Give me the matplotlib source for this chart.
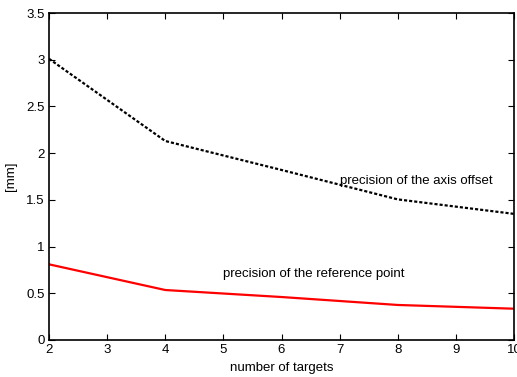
import numpy as np
import matplotlib
matplotlib.use('Agg')
import matplotlib.pyplot as plt

plt.rcParams['font.family'] = ['Liberation Sans', 'DejaVu Sans']

targets = [2, 4, 6, 8, 10]
axis_offset = [3.01, 2.13, 1.82, 1.505, 1.35]
ref_point = [0.81, 0.535, 0.46, 0.375, 0.335]

W, H = 517, 377
fig = plt.figure(figsize=(W/100., H/100.), dpi=100)
ax = fig.add_axes([49./W, 1-340./H, (514.-49.)/W, (340.-13.)/H])

ax.plot(targets, axis_offset, color='k', lw=1.6, linestyle=(0, (1.4, 0.9)))
ax.plot(targets, ref_point, color='#ff0000', lw=1.6)

fs = 9.5
ax.text(7.0, 1.70, 'precision of the axis offset', fontsize=fs, va='center', ha='left')
ax.text(5.0, 0.71, 'precision of the reference point', fontsize=fs, va='center', ha='left')

ax.set_xlim(2, 10)
ax.set_ylim(0, 3.5)
ax.set_xticks(np.arange(2, 11, 1))
ax.set_yticks(np.arange(0, 3.51, 0.5))
ax.set_yticklabels(['0', '0.5', '1', '1.5', '2', '2.5', '3', '3.5'])
ax.tick_params(direction='in', top=True, right=True, labelsize=fs, length=4, width=0.8, pad=3)
for s in ax.spines.values():
    s.set_linewidth(1.2)

ax.set_xlabel('number of targets', fontsize=fs, labelpad=4)
ax.set_ylabel('[mm]', fontsize=fs, labelpad=7)

fig.savefig('out.png', dpi=100)
